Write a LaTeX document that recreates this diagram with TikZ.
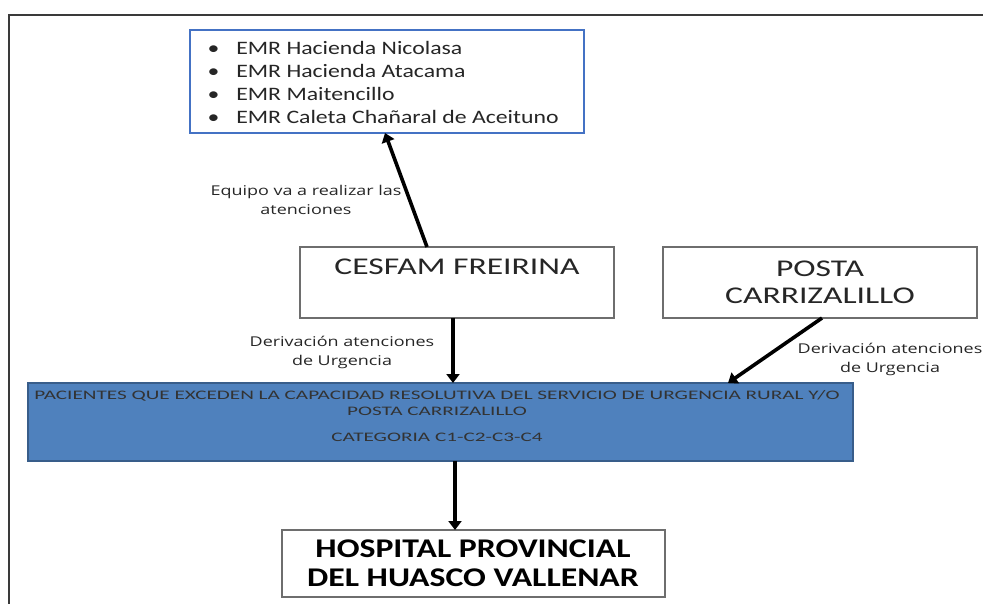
\documentclass[tikz,border=0pt]{standalone}
\usepackage{fontspec}
\setmainfont{Carlito}[FakeStretch=1.25]
\newfontfamily\lblfont{Open Sans}[FakeStretch=1.33]
\newfontfamily\bluefont{Carlito}[FakeStretch=1.63]
\newfontfamily\titlefont{Carlito}[FakeStretch=1.4]
\newfontfamily\hospfont{Carlito}[FakeStretch=1.25]
\usetikzlibrary{arrows.meta}
\definecolor{emrblue}{HTML}{4472C4}
\definecolor{fillblue}{HTML}{4F81BD}
\definecolor{edgeblue}{HTML}{385D8A}
\definecolor{framegray}{HTML}{3A3A3A}
\definecolor{boxgray}{HTML}{6E6E6E}
\definecolor{titletext}{HTML}{262626}
\tikzset{
  box/.style={draw=boxgray, line width=1.3pt, fill=white, outer sep=0pt, inner sep=0pt, anchor=north west},
  flow/.style={line width=3.6pt, -{Triangle[width=13pt,length=9pt]}},
  lbl/.style={font=\lblfont\fontsize{13.5}{19}\selectfont, align=center, text=black!85},
}
\begin{document}
\begin{tikzpicture}[x=1pt,y=-1pt]
\useasboundingbox (0,0) rectangle (983,604);
% frame
\coordinate (ftl) at (9,15);
\coordinate (ftr) at (983,15);
\coordinate (fbl) at (9,604);
\draw[framegray, line width=1.3pt] (ftr) -- (ftl) -- (fbl);
% boxes
\node[box, draw=emrblue, line width=1.8pt, minimum width=394pt, minimum height=103pt] (emr) at (190,30) {};
\node[anchor=west, align=left, font=\fontsize{19}{23}\selectfont, text=black!85] (emrtxt) at (204,82)
 {\textbullet\hspace{17pt}EMR Hacienda Nicolasa\\
  \textbullet\hspace{17pt}EMR Hacienda Atacama\\
  \textbullet\hspace{17pt}EMR Maitencillo\\
  \textbullet\hspace{17pt}EMR Caleta Chañaral de Aceituno};
\node[box, minimum width=314pt, minimum height=71pt] (cesfam) at (300,247) {};
\node[font=\titlefont\fontsize{24}{27}\selectfont, text=titletext] (cesfamtxt) at (457,267) {CESFAM FREIRINA};
\node[box, minimum width=314pt, minimum height=71pt] (posta) at (663,247) {};
\node[font=\titlefont\fontsize{24}{27}\selectfont, text=titletext, align=center] (postatxt) at (820,282) {POSTA\\CARRIZALILLO};
\node[box, draw=edgeblue, fill=fillblue, minimum width=825pt, minimum height=78pt] (pac) at (28,383) {};
\node[font=\bluefont\fontsize{13}{16}\selectfont, text=black!80, align=center] (pactxt) at (437,403)
 {PACIENTES QUE EXCEDEN LA CAPACIDAD RESOLUTIVA DEL SERVICIO DE URGENCIA RURAL Y/O\\POSTA CARRIZALILLO};
\node[font=\bluefont\fontsize{13}{16}\selectfont, text=black!80] (cattxt) at (437,437) {CATEGORIA C1-C2-C3-C4};
\node[box, minimum width=383pt, minimum height=67pt] (hosp) at (282,530) {};
\node[font=\hospfont\bfseries\fontsize{27}{29}\selectfont, text=black, align=center] (hosptxt) at (473,563) {HOSPITAL PROVINCIAL\\DEL HUASCO VALLENAR};
% labels
\node[lbl] (l1) at (306,200) {Equipo va a realizar las\\atenciones};
\node[lbl] (l2) at (342,352) {Derivación atenciones\\de Urgencia};
\node[lbl] (l3) at (890,359) {Derivación atenciones\\de Urgencia};
% arrows
\draw[flow] ([xshift=127pt]cesfam.north west) -- ([xshift=195pt]emr.south west);
\draw[flow] ([xshift=153pt]cesfam.south west) -- ([xshift=425pt]pac.north west);
\draw[flow] ([xshift=159pt]posta.south west) -- ([xshift=700pt]pac.north west);
\draw[flow] ([xshift=427pt]pac.south west) -- ([xshift=173pt]hosp.north west);
\end{tikzpicture}
\end{document}
